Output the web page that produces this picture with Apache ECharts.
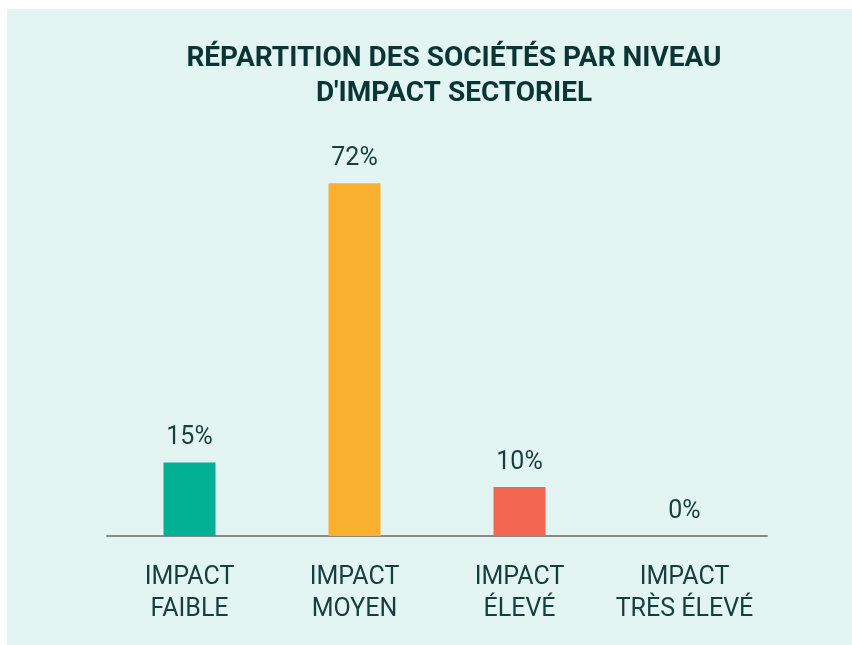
<!DOCTYPE html>
<html>
<head>
<meta charset="utf-8">
<script src="https://cdn.jsdelivr.net/npm/echarts@6/dist/echarts.min.js"></script>
<style>
  html, body { margin: 0; padding: 0; background: #ffffff; }
  #chart { width: 852px; height: 645px; }
</style>
</head>
<body>
<div id="chart"></div>
<script>
var categories = ['IMPACT\nFAIBLE', 'IMPACT\nMOYEN', 'IMPACT\nÉLEVÉ', 'IMPACT\nTRÈS ÉLEVÉ'];
var values = [15, 72, 10, 0];
var barColors = ['#00b092', '#f9b02e', '#f26551', '#8a8a8a'];

var dom = document.getElementById('chart');
var myChart = echarts.init(dom, null, { renderer: 'canvas' });

var option = {
  graphic: [{
    type: 'rect',
    shape: { x: 7, y: 9, width: 845, height: 636 },
    style: { fill: '#e3f5f3' },
    z: -10
  }],
  title: {
    text: 'RÉPARTITION DES SOCIÉTÉS PAR NIVEAU\nD\'IMPACT SECTORIEL',
    left: 449,
    top: 36,
    textAlign: 'center',
    textStyle: {
      color: '#0a3535',
      fontFamily: 'Roboto',
      fontSize: 28,
      fontWeight: 'bold',
      lineHeight: 35
    }
  },
  grid: {
    left: 107,
    right: 852 - 767,
    top: 144,
    bottom: 645 - 536
  },
  xAxis: {
    type: 'category',
    data: categories,
    axisLine: { lineStyle: { color: '#8a8a8a', width: 2 } },
    axisTick: { show: false },
    axisLabel: {
      interval: 0,
      margin: 26,
      color: '#173e3e',
      fontFamily: 'Roboto',
      fontSize: 25,
      lineHeight: 32
    }
  },
  yAxis: {
    type: 'value',
    min: 0,
    max: 80,
    show: false,
    splitLine: { show: false }
  },
  series: [{
    type: 'bar',
    barWidth: 52,
    data: values.map(function (v, i) {
      return { value: v, itemStyle: { color: barColors[i] } };
    }),
    label: {
      show: true,
      position: 'top',
      distance: 12,
      formatter: '{c}%',
      color: '#173e3e',
      fontFamily: 'Roboto',
      fontSize: 25
    }
  }]
};

myChart.setOption(option);
</script>
</body>
</html>
